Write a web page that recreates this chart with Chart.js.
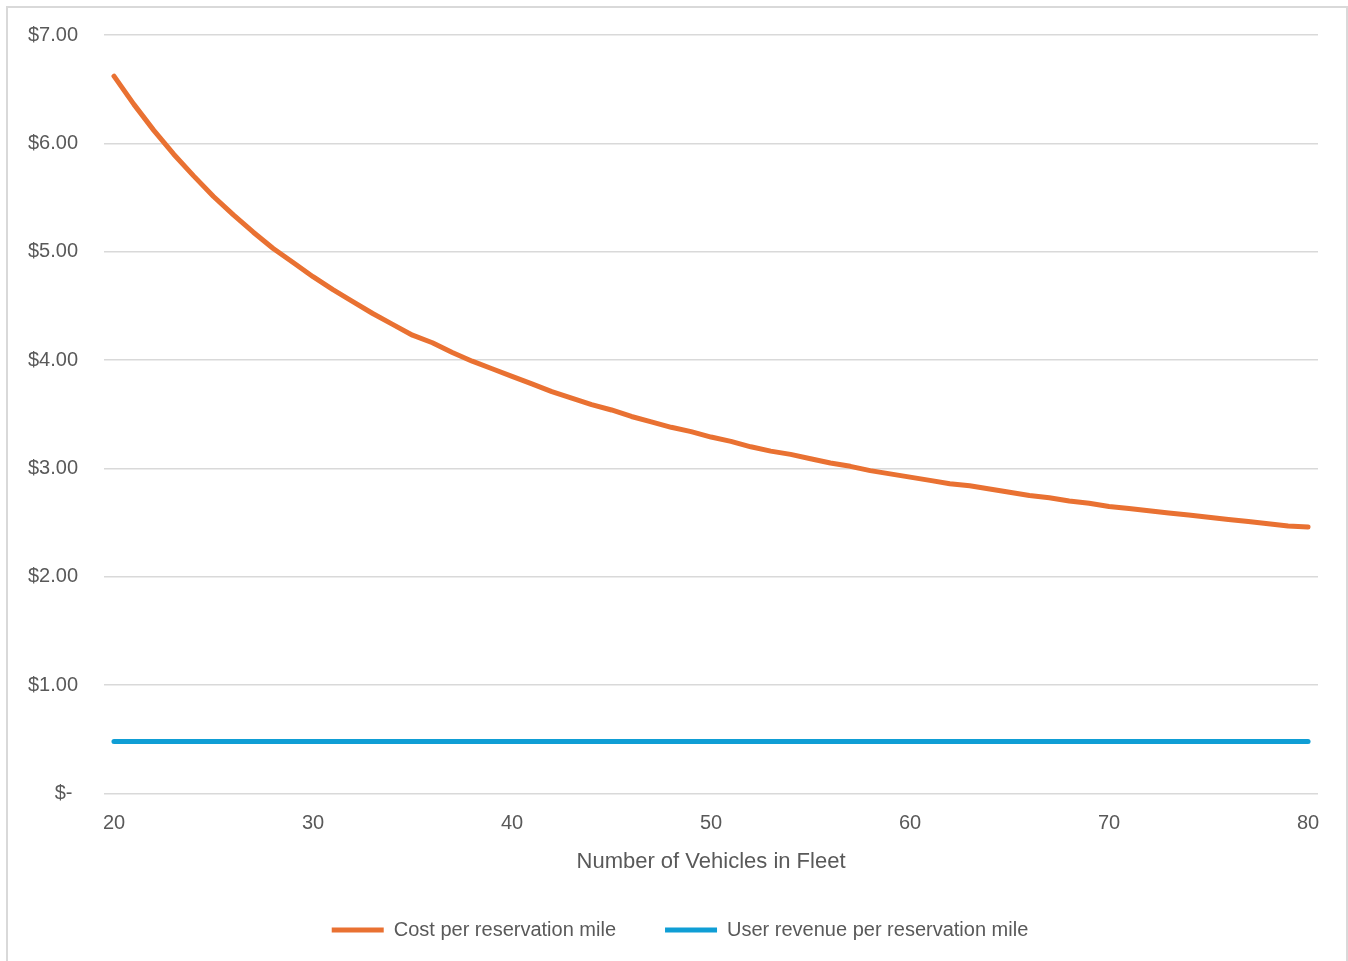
<!DOCTYPE html>
<html>
<head>
<meta charset="utf-8">
<script src="https://cdn.jsdelivr.net/npm/chart.js@4.4.1/dist/chart.umd.min.js"></script>
<style>
  body { margin: 0; background: #fff; overflow: hidden; }
  canvas { position: absolute; left: 0; top: -3px; }
  .frame {
    position: absolute; left: 6px; top: 6px;
    width: 1338px; height: 960px;
    border: 2px solid #d9d9d9; border-bottom: none;
    pointer-events: none;
  }
</style>
</head>
<body>
<canvas id="fleetChart" width="1348" height="964"></canvas>
<div class="frame"></div>
<script>
// fleet size (x axis)
const vehicles = [
  20, 21, 22, 23, 24, 25, 26, 27, 28, 29,
  30, 31, 32, 33, 34, 35, 36, 37, 38, 39,
  40, 41, 42, 43, 44, 45, 46, 47, 48, 49,
  50, 51, 52, 53, 54, 55, 56, 57, 58, 59,
  60, 61, 62, 63, 64, 65, 66, 67, 68, 69,
  70, 71, 72, 73, 74, 75, 76, 77, 78, 79,
  80,
];

// $ per reservation mile
const costPerMile = [
  6.62, 6.36, 6.12, 5.90, 5.70, 5.51, 5.34, 5.18, 5.03, 4.90,
  4.77, 4.65, 4.54, 4.43, 4.33, 4.23, 4.16, 4.07, 3.99, 3.92,
  3.85, 3.78, 3.71, 3.65, 3.59, 3.54, 3.48, 3.43, 3.38, 3.34,
  3.29, 3.25, 3.20, 3.16, 3.13, 3.09, 3.05, 3.02, 2.98, 2.95,
  2.92, 2.89, 2.86, 2.84, 2.81, 2.78, 2.75, 2.73, 2.70, 2.68,
  2.65, 2.63, 2.61, 2.59, 2.57, 2.55, 2.53, 2.51, 2.49, 2.47,
  2.46,
];

const revenuePerMile = [
  0.48, 0.48, 0.48, 0.48, 0.48, 0.48, 0.48, 0.48, 0.48, 0.48,
  0.48, 0.48, 0.48, 0.48, 0.48, 0.48, 0.48, 0.48, 0.48, 0.48,
  0.48, 0.48, 0.48, 0.48, 0.48, 0.48, 0.48, 0.48, 0.48, 0.48,
  0.48, 0.48, 0.48, 0.48, 0.48, 0.48, 0.48, 0.48, 0.48, 0.48,
  0.48, 0.48, 0.48, 0.48, 0.48, 0.48, 0.48, 0.48, 0.48, 0.48,
  0.48, 0.48, 0.48, 0.48, 0.48, 0.48, 0.48, 0.48, 0.48, 0.48,
  0.48,
];

const seriesNames = ["Cost per reservation mile", "User revenue per reservation mile"];
const xTitle = "Number of Vehicles in Fleet";

const textColor = "#595959";
const gridColor = "#d9d9d9";
const fontFamily = "'Liberation Sans', Arial, sans-serif";

// the legend is centred on the whole frame, not on the padded box
const legendShift = {
  id: "legendShift",
  afterLayout(chart) {
    const lg = chart.legend;
    if (!lg) return;
    lg.left += 20;
    lg.right += 20;
    if (lg.adjustHitBoxes) lg.adjustHitBoxes();
  },
};

const ctx = document.getElementById("fleetChart").getContext("2d");

new Chart(ctx, {
  type: "line",
  data: {
    labels: vehicles,
    datasets: [
      {
        label: seriesNames[0],
        data: costPerMile,
        borderColor: "#e97132",
        backgroundColor: "#e97132",
        borderWidth: 5,
        borderCapStyle: "round",
        borderJoinStyle: "round",
        pointRadius: 0,
        tension: 0,
      },
      {
        label: seriesNames[1],
        data: revenuePerMile,
        borderColor: "#0f9ed5",
        backgroundColor: "#0f9ed5",
        borderWidth: 5,
        borderCapStyle: "round",
        pointRadius: 0,
        tension: 0,
      },
    ],
  },
  plugins: [legendShift],
  options: {
    responsive: false,
    animation: false,
    devicePixelRatio: 1,
    layout: { padding: { left: 2, right: 30, top: 20, bottom: 11 } },
    plugins: {
      tooltip: { enabled: false },
      legend: {
        position: "bottom",
        labels: {
          usePointStyle: true,
          pointStyle: "line",
          pointStyleWidth: 52,
          padding: 49,
          color: textColor,
          font: { family: fontFamily, size: 20 },
        },
      },
    },
    scales: {
      x: {
        type: "category",
        offset: true,
        grid: { display: false },
        border: { display: false },
        ticks: {
          autoSkip: false,
          maxRotation: 0,
          padding: 10,
          color: textColor,
          font: { family: fontFamily, size: 20 },
          callback: function (val) {
            const v = this.getLabelForValue(val);
            return v % 10 === 0 ? String(v) : "";
          },
        },
        title: {
          display: true,
          text: xTitle,
          color: textColor,
          font: { family: fontFamily, size: 22 },
          padding: { top: 3, bottom: -4 },
        },
      },
      y: {
        min: 0,
        max: 7,
        grid: { color: gridColor, lineWidth: 1.5, drawTicks: false },
        border: { display: false },
        ticks: {
          stepSize: 1,
          padding: 26,
          color: textColor,
          font: { family: fontFamily, size: 20 },
          callback: (v) => (v === 0 ? "$- " : "$" + v.toFixed(2)),
        },
      },
    },
  },
});
</script>
</body>
</html>
